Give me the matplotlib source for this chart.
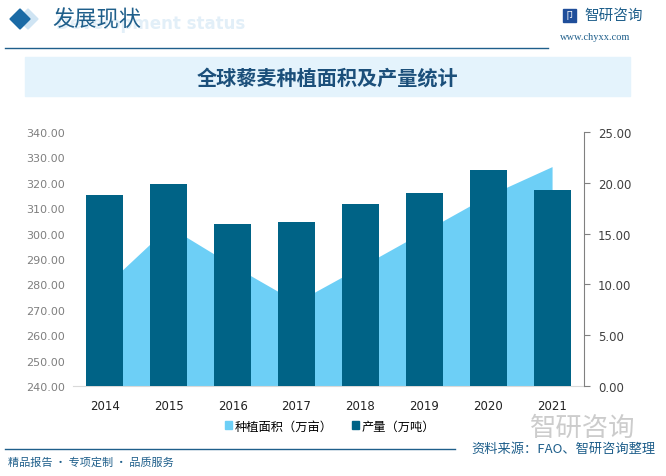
import matplotlib.pyplot as plt
import numpy as np
from matplotlib.patches import Rectangle, Polygon

plt.rcParams['font.family'] = ['Noto Sans CJK SC', 'DejaVu Sans']

years = ['2014', '2015', '2016', '2017', '2018', '2019', '2020', '2021']
area = [279.3, 302.8, 287.5, 273.1, 286.9, 300.9, 314.9, 326.3]      # 种植面积（万亩）
output = [18.77, 19.85, 15.93, 16.12, 17.89, 18.97, 21.23, 19.26]   # 产量（万吨）
left_ticks = np.arange(240, 341, 10)
right_ticks = np.arange(0, 26, 5)

c_area = '#6dcff6'
c_bar = '#006386'
c_dark = '#1f5f8b'

W, H = 666, 477
fig = plt.figure(figsize=(W / 100, H / 100), dpi=100)

def fx(x):
    return x / W

def fy(y):
    return 1 - y / H

# header
fig.patches.append(Polygon([[fx(28), fy(10)], [fx(38), fy(20)], [fx(28), fy(30)], [fx(18), fy(20)]],
                           closed=True, transform=fig.transFigure, color='#cfe4f3', zorder=0))
fig.patches.append(Polygon([[fx(20), fy(10)], [fx(30), fy(20)], [fx(20), fy(30)], [fx(10), fy(20)]],
                           closed=True, transform=fig.transFigure, color='#1a6aa5', zorder=1))
fig.text(fx(56), fy(24), 'Development status', fontsize=12, fontweight='bold',
         color='#e2eff8', va='center', ha='left', family='DejaVu Sans', zorder=0)
fig.text(fx(52), fy(20), '发展现状', fontsize=16, color=c_dark, va='center', ha='left', zorder=2)
fig.add_artist(plt.Line2D([fx(5), fx(548)], [fy(49), fy(49)], color=c_dark, lw=1))

# logo
fig.patches.append(Rectangle((fx(563), fy(23)), fx(13), 13 / H, transform=fig.transFigure,
                             color='#1f4e9a'))
fig.text(fx(569.5), fy(16.5), '卩', fontsize=7, color='white', ha='center', va='center')
fig.text(fx(584), fy(16), '智研咨询', fontsize=10.5, color=c_dark, va='center', ha='left')
fig.text(fx(560), fy(37), 'www.chyxx.com', fontsize=7.5, color=c_dark, va='center', ha='left',
         family='Liberation Serif')

# title box
fig.patches.append(Rectangle((fx(25), fy(97)), fx(605), 39 / H, transform=fig.transFigure,
                             color='#e4f3fc', zorder=0))
fig.text(fx(327), fy(78), '全球藜麦种植面积及产量统计', fontsize=14.5, fontweight='bold',
         color='#1b4f7a', ha='center', va='center')

# chart
ax = fig.add_axes([fx(73), fy(387.3), fx(511), (387.3 - 132.7) / H])
x = np.arange(len(years))
ax.fill_between(x, 240, area, color=c_area, linewidth=0)
ax.set_xlim(-0.5, len(years) - 0.5)
ax.set_ylim(240, 340)
ax.set_yticks(left_ticks)
ax.set_yticklabels([f'{v:.2f}' for v in left_ticks], fontsize=8, color='#7f7f7f',
                   family='DejaVu Sans')
ax.set_xticks(x)
ax.set_xticklabels(years, fontsize=8.5, color='#222222', family='DejaVu Sans')
ax.tick_params(axis='both', length=0, pad=6)
ax.tick_params(axis='x', pad=9)
for s in ['top', 'left', 'right']:
    ax.spines[s].set_visible(False)
ax.spines['bottom'].set_color('#d9d9d9')
ax.patch.set_alpha(0)

ax2 = ax.twinx()
ax2.bar(x, output, width=0.58, color=c_bar)
ax2.set_ylim(0, 25)
ax2.set_yticks(right_ticks)
ax2.set_yticklabels([f'{v:.2f}' for v in right_ticks], fontsize=8.5, color='#404040',
                    family='DejaVu Sans')
ax2.tick_params(axis='y', length=4, color='#808080', pad=6)
for s in ['top', 'left', 'bottom']:
    ax2.spines[s].set_visible(False)
ax2.spines['right'].set_color('#808080')

# legend
h1 = Rectangle((0, 0), 1, 1, color=c_area)
h2 = Rectangle((0, 0), 1, 1, color=c_bar)
fig.legend([h1, h2], ['种植面积（万亩）', '产量（万吨）'], loc='center',
           bbox_to_anchor=(fx(330), fy(427)), ncol=2, frameon=False, fontsize=8.8,
           handlelength=0.6, handleheight=0.6, handletextpad=0.2, columnspacing=1.6)

# footer
fig.text(fx(583), fy(428), '智研咨询', fontsize=19, color='#cccccc', ha='center', va='center',
         zorder=0)
fig.add_artist(plt.Line2D([fx(5), fx(455)], [fy(450), fy(450)], color=c_dark, lw=1))
fig.text(fx(655), fy(449), '资料来源：FAO、智研咨询整理', fontsize=9.5, color=c_dark,
         ha='right', va='center')
fig.text(fx(8), fy(463), '精品报告 · 专项定制 · 品质服务', fontsize=8, color=c_dark,
         ha='left', va='center')

fig.savefig('out.png', dpi=100)
